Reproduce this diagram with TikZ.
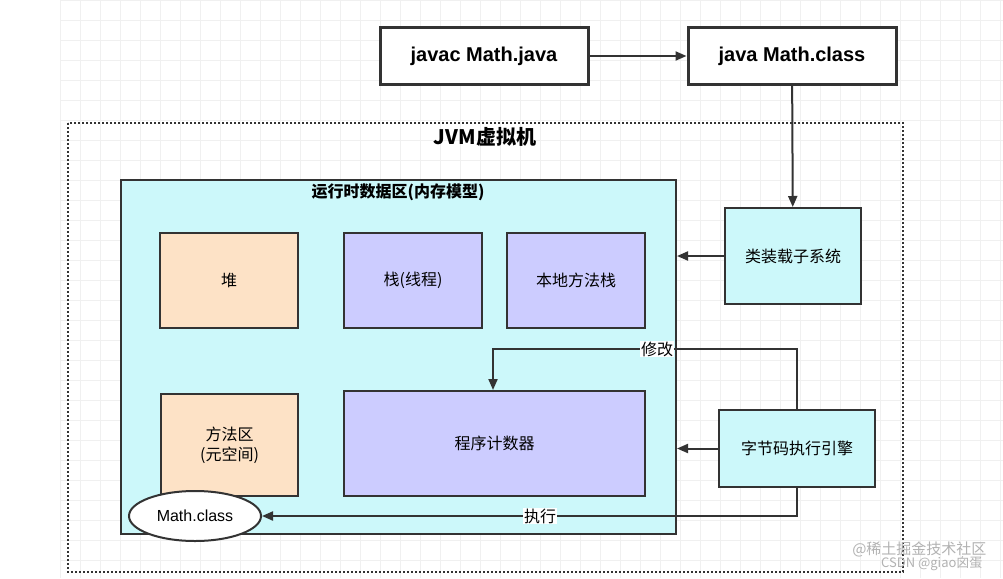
\documentclass[tikz,border=0pt]{standalone}
\usepackage{fontspec}
\setmainfont{Liberation Sans}
\newfontfamily\cjk{Noto Sans CJK SC}
\usetikzlibrary{arrows.meta,shapes.geometric}
\definecolor{cy}{HTML}{CCF8FA}
\definecolor{pe}{HTML}{FDE2C6}
\definecolor{pu}{HTML}{CCCCFF}
\definecolor{ln}{HTML}{333333}
\begin{document}
\begin{tikzpicture}[x=1pt,y=-1pt,
  bx/.style={draw=ln,line width=2pt,font=\cjk\fontsize{16}{20}\selectfont,align=center,inner sep=0},
  big/.style={draw=ln,line width=3pt,fill=white,font=\bfseries\fontsize{20}{24}\selectfont},
  ar/.style={draw=ln,line width=2pt,-{Triangle[length=11pt,width=9pt]}},
  lb/.style={fill=white,font=\cjk\fontsize{16}{18}\selectfont,inner sep=1pt}]
\useasboundingbox (0,0) rectangle (1003,578);
\fill[white] (0,0) rectangle (1003,578);
\draw[black!6,step=20pt] (60,0) grid (1003,578);
\node[big,minimum width=208pt,minimum height=57pt] (javac) at (484,56) {javac Math.java};
\node[big,minimum width=208pt,minimum height=57pt] (java) at (792,56) {java Math.class};
\draw[ar] (javac) -- (java);
\draw[ln,line width=2pt,dotted] (68,123) rectangle (903,572);
\node[font=\cjk\bfseries\fontsize{20}{24}\selectfont] (jvm) at (485,137) {JVM虚拟机};
\node[bx,fill=cy,minimum width=555pt,minimum height=354pt] (rt) at (398.5,357) {};
\node[font=\cjk\bfseries\fontsize{16}{18}\selectfont] (rtt) at (398,192) {运行时数据区(内存模型)};
\node[bx,fill=pe,minimum width=138pt,minimum height=95pt] (heap) at (229,280.5) {堆};
\node[bx,fill=pu,minimum width=138pt,minimum height=95pt] (stack) at (413,280.5) {栈(线程)};
\node[bx,fill=pu,minimum width=138pt,minimum height=95pt] (native) at (576,280.5) {本地方法栈};
\node[bx,fill=pe,minimum width=137pt,minimum height=102pt] (method) at (229.5,445) {方法区\\(元空间)};
\node[bx,fill=pu,minimum width=301pt,minimum height=105pt] (pc) at (494.5,443.5) {程序计数器};
\node[bx,ellipse,fill=white,minimum width=132pt,minimum height=50pt,font=\fontsize{16}{18}\selectfont] (mc) at (195,516) {Math.class};
\node[bx,fill=cy,minimum width=136pt,minimum height=96pt] (cl) at (793,256) {类装载子系统};
\node[bx,fill=cy,minimum width=156pt,minimum height=77pt] (ee) at (797,448.5) {字节码执行引擎};
\draw[ar] (java) -- (cl);
\draw[ar] (cl.west) -- (rt.east|-cl.west);
\draw[ar] (ee.west) -- (rt.east|-ee.west);
\draw[ar] (ee.north) |- (493,349) node[lb,pos=0.73] {修改} -- (pc.north-|493,0);
\draw[ar] (ee.south) |- (mc.east) node[lb,pos=0.74] {执行};
\node[font=\cjk\fontsize{15}{18}\selectfont,text=black!30,anchor=east] (wm1) at (990,549) {@稀土掘金技术社区};
\node[font=\cjk\fontsize{13}{15}\selectfont,text=black!30,anchor=east] (wm2) at (986,564) {CSDN @giao囟蛋};
\end{tikzpicture}
\end{document}
